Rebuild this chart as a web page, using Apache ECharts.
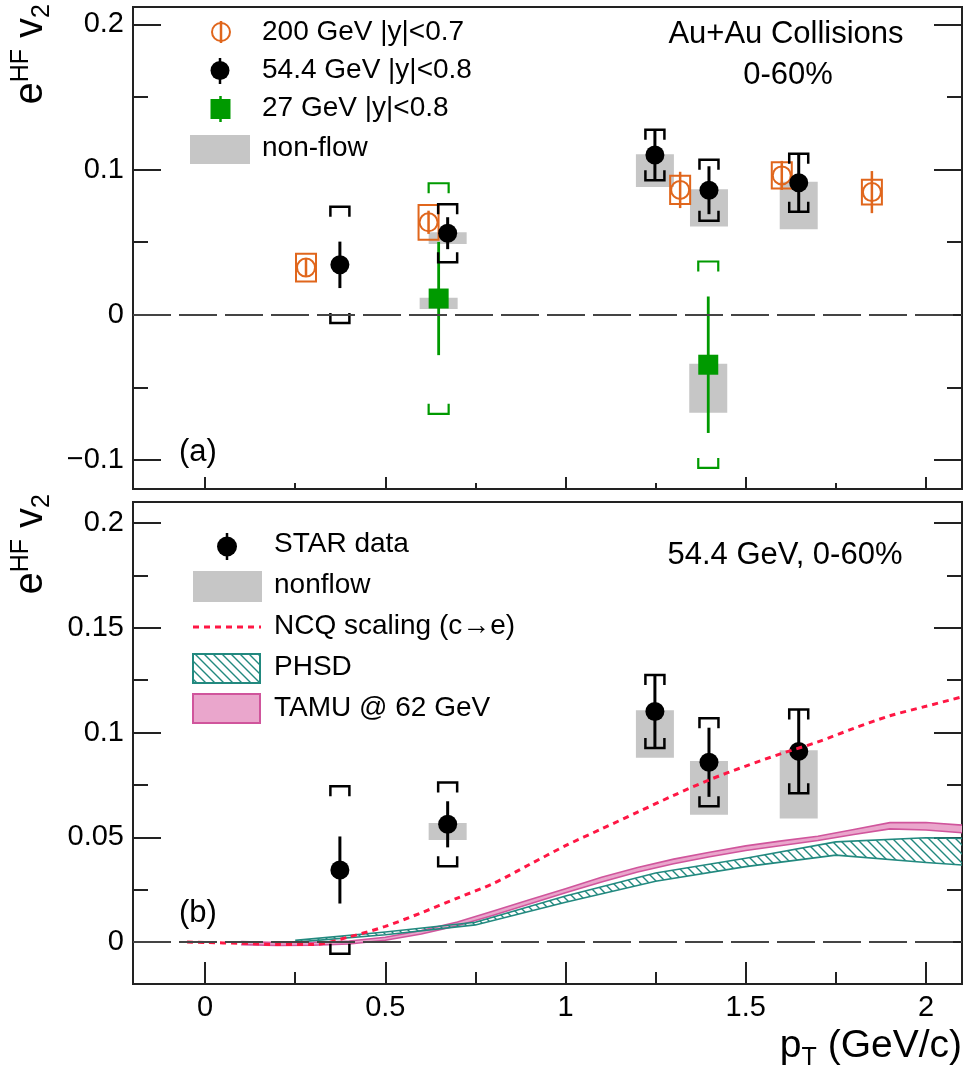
<!DOCTYPE html>
<html>
<head>
<meta charset="utf-8">
<script src="https://cdn.jsdelivr.net/npm/echarts@6/dist/echarts.min.js"></script>
<style>
  html, body { margin: 0; padding: 0; background: #fff; }
  #chart { width: 966px; height: 1078px; }
</style>
</head>
<body>
<div id="chart"></div>
<script>
// ---- axis ticks ----
const xTicks = [0, 0.5, 1, 1.5, 2];
const xMinor = [0.25, 0.75, 1.25, 1.75];
const yTicksA = [-0.1, 0, 0.1, 0.2];
const yMinorA = [-0.05, 0.05, 0.15];
const yTicksB = [0, 0.05, 0.1, 0.15, 0.2];
const yMinorB = [0.025, 0.075, 0.125, 0.175];

// ---- 54.4 GeV |y|<0.8 (STAR data) ----
const pt54 = [0.374, 0.673, 1.248, 1.398, 1.647];
const v2_54 = [0.0344, 0.0562, 0.110, 0.0858, 0.091];
const stat54 = [0.016, 0.011, 0.017, 0.0165, 0.020];
const sys54 = [0.040, 0.020, 0.0174, 0.021, 0.020];
const nonflow54 = [0, 0.0075, 0.022, 0.025, 0.032];

// ---- 200 GeV |y|<0.7 ----
const pt200 = [0.28, 0.62, 1.318, 1.60, 1.85];
const v2_200 = [0.0325, 0.0637, 0.086, 0.096, 0.0845];
const stat200 = [0.006, 0.008, 0.0125, 0.010, 0.0145];
const sys200 = [0.0095, 0.012, 0.0097, 0.009, 0.0085];

// ---- 27 GeV |y|<0.8 ----
const pt27 = [0.648, 1.396];
const v2_27 = [0.0112, -0.0344];
const stat27 = [0.039, 0.047];
const sys27 = [0.0794, 0.0711];
const nonflow27 = [0.0073, 0.033];

// ---- models (panel b) ----
const ncqPt = [-0.05, 0.0, 0.1, 0.2, 0.3, 0.4, 0.5, 0.6, 0.7, 0.8, 0.9, 1.0, 1.1, 1.2, 1.3, 1.4, 1.5, 1.6, 1.7, 1.8, 1.9, 2.0, 2.1];
const ncqV2 = [0, -0.0002, -0.0006, -0.0012, -0.0012, 0.0025, 0.0075, 0.014, 0.021, 0.028, 0.037, 0.046, 0.054, 0.062, 0.070, 0.0775, 0.084, 0.090, 0.0955, 0.102, 0.108, 0.1125, 0.117];

const phsdPt = [0.25, 0.5, 0.75, 1.0, 1.25, 1.5, 1.75, 2.0, 2.1];
const phsdLow = [0.0, 0.0035, 0.0082, 0.019, 0.029, 0.036, 0.0415, 0.038, 0.0368];
const phsdHigh = [0.0008, 0.0048, 0.0095, 0.022, 0.033, 0.040, 0.0478, 0.0498, 0.0495];

const tamuPt = [0.1, 0.2, 0.3, 0.4, 0.5, 0.6, 0.7, 0.8, 0.9, 1.0, 1.1, 1.2, 1.3, 1.4, 1.5, 1.6, 1.7, 1.8, 1.9, 2.0, 2.1];
const tamuLow = [-0.0012, -0.0016, -0.0015, -0.0009, 0.0009, 0.0039, 0.0078, 0.0128, 0.0182, 0.0235, 0.0287, 0.0334, 0.0374, 0.0407, 0.0437, 0.0461, 0.0485, 0.0513, 0.0540, 0.0535, 0.0522];
const tamuHigh = [0.0002, -0.0002, -0.0001, 0.0005, 0.0023, 0.0055, 0.0096, 0.0148, 0.0202, 0.0255, 0.0309, 0.0356, 0.0396, 0.0429, 0.0459, 0.0483, 0.0505, 0.0537, 0.0570, 0.0571, 0.0558];

// ---- styles ----
const FONT = "'Liberation Sans', Arial, sans-serif";
const ORANGE = '#e0661c';
const GREEN = '#009a00';
const GRAY = '#c6c6c6';
const TEAL = '#22897f';
const PINK = '#eaa6cc';
const PINK_EDGE = '#d0559c';
const RED = '#ff1744';
const AXIS = '#222';

function hatchCanvas(color) {
  const s = 9;
  const c = document.createElement('canvas');
  c.width = s; c.height = s;
  const ctx = c.getContext('2d');
  ctx.strokeStyle = color;
  ctx.lineWidth = 1.4;
  ctx.beginPath();
  ctx.moveTo(0, 0); ctx.lineTo(s, s);
  ctx.moveTo(-2, s - 2); ctx.lineTo(2, s + 2);
  ctx.moveTo(s - 2, -2); ctx.lineTo(s + 2, 2);
  ctx.stroke();
  return c;
}
const hatch = { image: hatchCanvas(TEAL), repeat: 'repeat' };

const fmt = v => (v < 0 ? '\u2212' + (-v) : String(v));

function xAxis(gi, values, len, showLabel) {
  return {
    type: 'value', gridIndex: gi, min: -0.2, max: 2.1, position: 'bottom',
    axisLine: { show: false, onZero: false }, splitLine: { show: false },
    axisTick: { show: true, inside: true, length: len, customValues: values, lineStyle: { color: AXIS, width: 2 } },
    axisLabel: { show: showLabel, customValues: values, margin: 9, color: '#000', fontSize: 29, fontFamily: FONT, formatter: fmt }
  };
}
function yAxis(gi, min, values, len, pos, showLabel) {
  return {
    type: 'value', gridIndex: gi, min: min, max: gi === 0 ? 0.212 : 0.21, position: pos,
    axisLine: { show: false, onZero: false }, splitLine: { show: false },
    axisTick: { show: true, inside: true, length: len, customValues: values, lineStyle: { color: AXIS, width: 2 } },
    axisLabel: { show: showLabel, customValues: values, margin: 9, color: '#000', fontSize: 29, fontFamily: FONT, formatter: fmt }
  };
}

function statBars(gi, xs, ys, es, color, lw) {
  return {
    type: 'custom', xAxisIndex: 2 * gi, yAxisIndex: 4 * gi, silent: true,
    data: xs.map((x, i) => [x, ys[i], es[i]]),
    renderItem(params, api) {
      const a = api.coord([api.value(0), api.value(1) + api.value(2)]);
      const b = api.coord([api.value(0), api.value(1) - api.value(2)]);
      return { type: 'line', shape: { x1: a[0], y1: a[1], x2: b[0], y2: b[1] }, style: { stroke: color, lineWidth: lw } };
    }
  };
}
function brackets(gi, xs, ys, es, color, hw, arm, lw) {
  return {
    type: 'custom', xAxisIndex: 2 * gi, yAxisIndex: 4 * gi, silent: true,
    data: xs.map((x, i) => [x, ys[i], es[i]]),
    renderItem(params, api) {
      const t = api.coord([api.value(0), api.value(1) + api.value(2)]);
      const b = api.coord([api.value(0), api.value(1) - api.value(2)]);
      const st = { fill: 'none', stroke: color, lineWidth: lw };
      return { type: 'group', children: [
        { type: 'polyline', shape: { points: [[t[0] - hw, t[1] + arm], [t[0] - hw, t[1]], [t[0] + hw, t[1]], [t[0] + hw, t[1] + arm]] }, style: st },
        { type: 'polyline', shape: { points: [[b[0] - hw, b[1] - arm], [b[0] - hw, b[1]], [b[0] + hw, b[1]], [b[0] + hw, b[1] - arm]] }, style: st }
      ] };
    }
  };
}
function sysBoxes(gi, xs, ys, es, color, hw, lw) {
  return {
    type: 'custom', xAxisIndex: 2 * gi, yAxisIndex: 4 * gi, silent: true,
    data: xs.map((x, i) => [x, ys[i], es[i]]),
    renderItem(params, api) {
      const t = api.coord([api.value(0), api.value(1) + api.value(2)]);
      const b = api.coord([api.value(0), api.value(1) - api.value(2)]);
      return { type: 'rect', shape: { x: t[0] - hw, y: t[1], width: 2 * hw, height: b[1] - t[1] }, style: { fill: 'none', stroke: color, lineWidth: lw } };
    }
  };
}
function nonflowBoxes(gi, xs, ys, nf, hw) {
  return {
    type: 'custom', xAxisIndex: 2 * gi, yAxisIndex: 4 * gi, silent: true,
    data: xs.map((x, i) => [x, ys[i], nf[i]]),
    renderItem(params, api) {
      if (!api.value(2)) return null;
      const t = api.coord([api.value(0), api.value(1) + 0.0006]);
      const b = api.coord([api.value(0), api.value(1) - api.value(2)]);
      return { type: 'rect', shape: { x: t[0] - hw, y: t[1], width: 2 * hw, height: b[1] - t[1] }, style: { fill: GRAY } };
    }
  };
}
function band(xs, lo, hi, fill, stroke) {
  return {
    type: 'custom', xAxisIndex: 2, yAxisIndex: 4, silent: true, clip: true,
    data: xs.map((x, i) => [x, lo[i], hi[i]]),
    renderItem(params, api) {
      if (params.dataIndex !== 0) return null;
      const top = xs.map((x, i) => api.coord([x, hi[i]]));
      const bot = xs.map((x, i) => api.coord([x, lo[i]]));
      return { type: 'group', children: [
        { type: 'polygon', shape: { points: top.concat(bot.slice().reverse()) }, style: { fill: fill } },
        { type: 'polyline', shape: { points: top }, style: { fill: 'none', stroke: stroke, lineWidth: 1.6 } },
        { type: 'polyline', shape: { points: bot }, style: { fill: 'none', stroke: stroke, lineWidth: 1.6 } }
      ] };
    }
  };
}
function zeroLine(gi) {
  return {
    type: 'line', xAxisIndex: 2 * gi, yAxisIndex: 4 * gi, data: [],
    markLine: { silent: true, symbol: 'none', label: { show: false },
      lineStyle: { color: '#444', width: 2, type: [38, 8] }, data: [{ yAxis: 0 }] }
  };
}
function markers(gi, xs, ys, symbol, size, style) {
  return {
    type: 'scatter', xAxisIndex: 2 * gi, yAxisIndex: 4 * gi, silent: true,
    symbol: symbol, symbolSize: size, itemStyle: Object.assign({ opacity: 1 }, style),
    data: xs.map((x, i) => [x, ys[i]])
  };
}

const series = [
  // panel (a)
  zeroLine(0),
  nonflowBoxes(0, pt54, v2_54, nonflow54, 19),
  nonflowBoxes(0, pt27, v2_27, nonflow27, 19),
  sysBoxes(0, pt200, v2_200, sys200, ORANGE, 10, 2),
  statBars(0, pt200, v2_200, stat200, ORANGE, 2.5),
  brackets(0, pt27, v2_27, sys27, GREEN, 10, 10, 2.2),
  statBars(0, pt27, v2_27, stat27, GREEN, 2.8),
  brackets(0, pt54, v2_54, sys54, '#000', 9.5, 10, 2.5),
  statBars(0, pt54, v2_54, stat54, '#000', 3),
  markers(0, pt200, v2_200, 'circle', 18, { color: 'rgba(0,0,0,0)', borderColor: ORANGE, borderWidth: 2 }),
  markers(0, pt27, v2_27, 'rect', 20, { color: GREEN }),
  markers(0, pt54, v2_54, 'circle', 19, { color: '#000' }),
  // panel (b)
  zeroLine(1),
  nonflowBoxes(1, pt54, v2_54, nonflow54, 19),
  band(tamuPt, tamuLow, tamuHigh, PINK, PINK_EDGE),
  band(phsdPt, phsdLow, phsdHigh, hatch, TEAL),
  {
    type: 'line', xAxisIndex: 2, yAxisIndex: 4, silent: true, smooth: 0.3, symbol: 'none',
    lineStyle: { color: RED, width: 3, type: [6, 5] },
    data: ncqPt.map((x, i) => [x, ncqV2[i]])
  },
  brackets(1, pt54, v2_54, sys54, '#000', 9.5, 10, 2.5),
  statBars(1, pt54, v2_54, stat54, '#000', 3),
  markers(1, pt54, v2_54, 'circle', 19, { color: '#000' })
];

const txt = (x, y, text, size, align) => ({
  type: 'text', x: x, y: y, silent: true,
  style: { text: text, fill: '#000', font: size + 'px ' + FONT, align: align || 'left', verticalAlign: 'middle' }
});
const yTitle = (y) => ({
  type: 'text', x: 31, y: y, rotation: Math.PI / 2, silent: true,
  style: {
    text: '{m|e}{s|HF}{m| v}{b|2}', align: 'right', verticalAlign: 'middle', fill: '#000',
    rich: {
      m: { fontSize: 40, fontFamily: FONT, lineHeight: 56, verticalAlign: 'middle' },
      s: { fontSize: 25, fontFamily: FONT, lineHeight: 56, verticalAlign: 'top', padding: [6, 0, 0, 0] },
      b: { fontSize: 25, fontFamily: FONT, lineHeight: 56, verticalAlign: 'bottom', padding: [0, 0, 4, 0] }
    }
  }
});

const graphic = [
  // panel (a) legend
  { type: 'circle', shape: { cx: 221, cy: 32, r: 9 }, style: { fill: 'none', stroke: ORANGE, lineWidth: 2 } },
  { type: 'line', shape: { x1: 221, y1: 21, x2: 221, y2: 43 }, style: { stroke: ORANGE, lineWidth: 2.5 } },
  { type: 'line', shape: { x1: 220, y1: 58, x2: 220, y2: 84 }, style: { stroke: '#000', lineWidth: 2.5 } },
  { type: 'circle', shape: { cx: 220, cy: 70.5, r: 9.5 }, style: { fill: '#000' } },
  { type: 'line', shape: { x1: 220.5, y1: 96, x2: 220.5, y2: 122 }, style: { stroke: GREEN, lineWidth: 2.5 } },
  { type: 'rect', shape: { x: 210.5, y: 99, width: 20, height: 20 }, style: { fill: GREEN } },
  { type: 'rect', shape: { x: 190, y: 135, width: 60, height: 29 }, style: { fill: GRAY } },
  txt(262, 32, '200 GeV |y|<0.7', 28),
  txt(262, 70, '54.4 GeV |y|<0.8', 28),
  txt(262, 108, '27 GeV |y|<0.8', 28),
  txt(262, 148, 'non-flow', 28),
  txt(786, 34, 'Au+Au Collisions', 31, 'center'),
  txt(788, 75, '0-60%', 31, 'center'),
  txt(179, 452, '(a)', 31),
  // panel (b) legend
  { type: 'line', shape: { x1: 227, y1: 533, x2: 227, y2: 560 }, style: { stroke: '#000', lineWidth: 2.5 } },
  { type: 'circle', shape: { cx: 227, cy: 546.5, r: 10 }, style: { fill: '#000' } },
  { type: 'rect', shape: { x: 193, y: 571, width: 69, height: 31 }, style: { fill: GRAY } },
  { type: 'line', shape: { x1: 193, y1: 627, x2: 261, y2: 627 }, style: { stroke: RED, lineWidth: 3, lineDash: [6, 5] } },
  { type: 'rect', shape: { x: 193, y: 654, width: 67, height: 29 }, style: { fill: hatch, stroke: TEAL, lineWidth: 2 } },
  { type: 'rect', shape: { x: 193, y: 694, width: 67, height: 29 }, style: { fill: PINK, stroke: PINK_EDGE, lineWidth: 2 } },
  txt(274, 544, 'STAR data', 28),
  txt(274, 585, 'nonflow', 28),
  txt(274, 626, 'NCQ scaling (c\u2192e)', 28),
  txt(274, 667, 'PHSD', 28),
  txt(274, 708, 'TAMU @ 62 GeV', 28),
  txt(785, 555, '54.4 GeV, 0-60%', 31, 'center'),
  txt(179, 913, '(b)', 31),
  // axis titles
  yTitle(4),
  yTitle(494),
  {
    type: 'text', x: 962, y: 1046, silent: true,
    style: {
      text: '{m|p}{t|T}{m| (GeV/c)}', align: 'right', verticalAlign: 'middle', fill: '#000',
      rich: {
        m: { fontSize: 39, fontFamily: FONT, lineHeight: 50, verticalAlign: 'middle' },
        t: { fontSize: 25, fontFamily: FONT, lineHeight: 50, verticalAlign: 'bottom' }
      }
    }
  }
];

const chart = echarts.init(document.getElementById('chart'), null, { renderer: 'canvas' });
chart.setOption({
  animation: false,
  backgroundColor: '#fff',
  grid: [
    { left: 133, right: 4, top: 7, height: 482, show: true, borderColor: AXIS, borderWidth: 2, outerBoundsMode: 'none' },
    { left: 133, right: 4, top: 502, height: 482, show: true, borderColor: AXIS, borderWidth: 2, outerBoundsMode: 'none' }
  ],
  xAxis: [
    xAxis(0, xTicks, 12, false),
    xAxis(0, xMinor, 6, false),
    xAxis(1, xTicks, 22, true),
    xAxis(1, xMinor, 12, false)
  ],
  yAxis: [
    yAxis(0, -0.12, yTicksA, 28, 'left', true),
    yAxis(0, -0.12, yMinorA, 15, 'left', false),
    yAxis(0, -0.12, yTicksA, 28, 'right', false),
    yAxis(0, -0.12, yMinorA, 15, 'right', false),
    yAxis(1, -0.02, yTicksB, 28, 'left', true),
    yAxis(1, -0.02, yMinorB, 15, 'left', false),
    yAxis(1, -0.02, yTicksB, 28, 'right', false),
    yAxis(1, -0.02, yMinorB, 15, 'right', false)
  ],
  series: series,
  graphic: graphic
});
</script>
</body>
</html>
